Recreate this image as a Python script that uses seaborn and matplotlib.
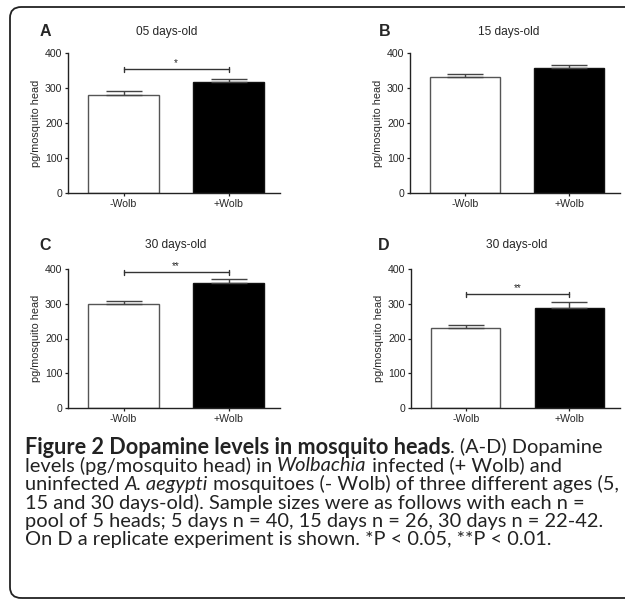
import matplotlib
matplotlib.use("Agg")
import matplotlib.pyplot as plt
import seaborn as sns
import pandas as pd
from matplotlib.patches import FancyBboxPatch

# ---------------- data ----------------
groups = ["-Wolb", "+Wolb"]
panel_letters = ["A", "B", "C", "D"]
panel_titles = ["05 days-old", "15 days-old", "30 days-old", "30 days-old"]
means_A = [280, 317]
sem_A = [11, 8]
means_B = [331, 356]
sem_B = [10, 9]
means_C = [300, 361]
sem_C = [9, 11]
means_D = [229, 288]
sem_D = [9, 16]
sig_labels = ["*", "", "**", "**"]
sig_heights = [354, None, 390, 327]
y_ticks = [0, 100, 200, 300, 400]
y_label = "pg/mosquito head"

all_means = [means_A, means_B, means_C, means_D]
all_sems = [sem_A, sem_B, sem_C, sem_D]

caption_lines = [
    [("Figure 2 Dopamine levels in mosquito heads", "bold", "normal"),
     (". (A-D) Dopamine", "normal", "normal")],
    [("levels (pg/mosquito head) in ", "normal", "normal"),
     ("Wolbachia", "normal", "italic"),
     (" infected (+ Wolb) and", "normal", "normal")],
    [("uninfected ", "normal", "normal"),
     ("A. aegypti", "normal", "italic"),
     (" mosquitoes (- Wolb) of three different ages (5,", "normal", "normal")],
    [("15 and 30 days-old). Sample sizes were as follows with each n =", "normal", "normal")],
    [("pool of 5 heads; 5 days n = 40, 15 days n = 26, 30 days n = 22-42.", "normal", "normal")],
    [("On D a replicate experiment is shown. *P < 0.05, **P < 0.01.", "normal", "normal")],
]

# ---------------- style ----------------
sns.set_theme(style="ticks")
plt.rcParams["font.family"] = ["Liberation Sans", "DejaVu Sans"]

W, H = 625, 600
fig = plt.figure(figsize=(W / 100, H / 100), dpi=100)

# rounded frame
frame = FancyBboxPatch((10 / W, 1 - 598 / H), (640 - 10) / W, (598 - 7) / H,
                       boxstyle="round,pad=0,rounding_size=0.018",
                       transform=fig.transFigure, fill=False,
                       edgecolor="#222222", linewidth=1.3, clip_on=False)
fig.add_artist(frame)

# axes boxes in pixels: left, right, top, bottom
boxes = [(68, 280, 53, 193), (410, 620, 53, 193),
         (68, 280, 269, 408), (411, 620, 269, 408)]
letter_pos = [(45, 32), (385, 32), (45, 245), (384, 245)]
title_pos = [(167, 32), (509, 32), (176, 245), (517, 245)]

for i, (l, r, t, b) in enumerate(boxes):
    ax = fig.add_axes([l / W, 1 - b / H, (r - l) / W, (b - t) / H])
    df = pd.DataFrame({"group": groups, "value": all_means[i]})
    sns.barplot(data=df, x="group", y="value", hue="group",
                palette={groups[0]: "white", groups[1]: "black"},
                order=groups, width=0.67, errorbar=None, legend=False, ax=ax)
    for patch, ec in zip(ax.patches, ["#555555", "#111111"]):
        patch.set_edgecolor(ec)
        patch.set_linewidth(1.0)
    ax.errorbar([0, 1], all_means[i], yerr=[[0, 0], all_sems[i]],
                fmt="none", ecolor="#444444", elinewidth=1.0,
                capsize=13, capthick=1.0, zorder=1)
    ax.set_ylim(0, 400)
    ax.set_xlim(-0.53, 1.49)
    ax.set_yticks(y_ticks)
    ax.tick_params(axis="both", labelsize=7.6, length=2.5, width=0.9,
                   pad=1.5, color="#222222")
    ax.set_xlabel("")
    ax.set_ylabel(y_label, fontsize=7.8, labelpad=3)
    for s in ["left", "bottom"]:
        ax.spines[s].set_linewidth(1.0)
        ax.spines[s].set_color("#222222")
    sns.despine(ax=ax)
    if sig_heights[i] is not None:
        h = sig_heights[i]
        ax.plot([0, 1], [h, h], color="#333333", lw=1.0)
        ax.plot([0, 0], [h - 7, h + 7], color="#333333", lw=1.0)
        ax.plot([1, 1], [h - 7, h + 7], color="#333333", lw=1.0)
        ax.text(0.5, h + 4, sig_labels[i], ha="center", va="bottom",
                fontsize=7)
    lx, ly = letter_pos[i]
    fig.text(lx / W, 1 - ly / H, panel_letters[i], fontsize=11.5,
             fontweight="bold", ha="center", va="center")
    tx, ty = title_pos[i]
    fig.text(tx / W, 1 - ty / H, panel_titles[i], fontsize=8.6,
             ha="center", va="center")

# ---------------- caption ----------------
cap_family = ["Lato", "DejaVu Sans"]
renderer = fig.canvas.get_renderer()

def piece_width(txt, wgt, sty, size):
    t = fig.text(0, 0, txt, fontsize=size, fontweight=wgt, fontstyle=sty,
                 family=cap_family)
    w = t.get_window_extent(renderer).width
    t.remove()
    return w

base = 10.0
# regular size fitted to line 5 (25 -> 605 px)
reg_size = base * (605 - 25) / piece_width(caption_lines[4][0][0], "normal", "normal", base)
tail = piece_width(caption_lines[0][1][0], "normal", "normal", reg_size)
bold_size = base * (604 - 25 - tail) / piece_width(caption_lines[0][0][0], "bold", "normal", base)

y0, dy = 447, 18.6
for k, pieces in enumerate(caption_lines):
    x = 25.0
    y = y0 + k * dy
    for txt, wgt, sty in pieces:
        sz = bold_size if wgt == "bold" else reg_size
        t = fig.text(x / W, 1 - y / H, txt, fontsize=sz, fontweight=wgt,
                     fontstyle=sty, family=cap_family, ha="left",
                     va="center", color="#222222")
        x += t.get_window_extent(renderer).width

fig.savefig("out.png", dpi=100)
